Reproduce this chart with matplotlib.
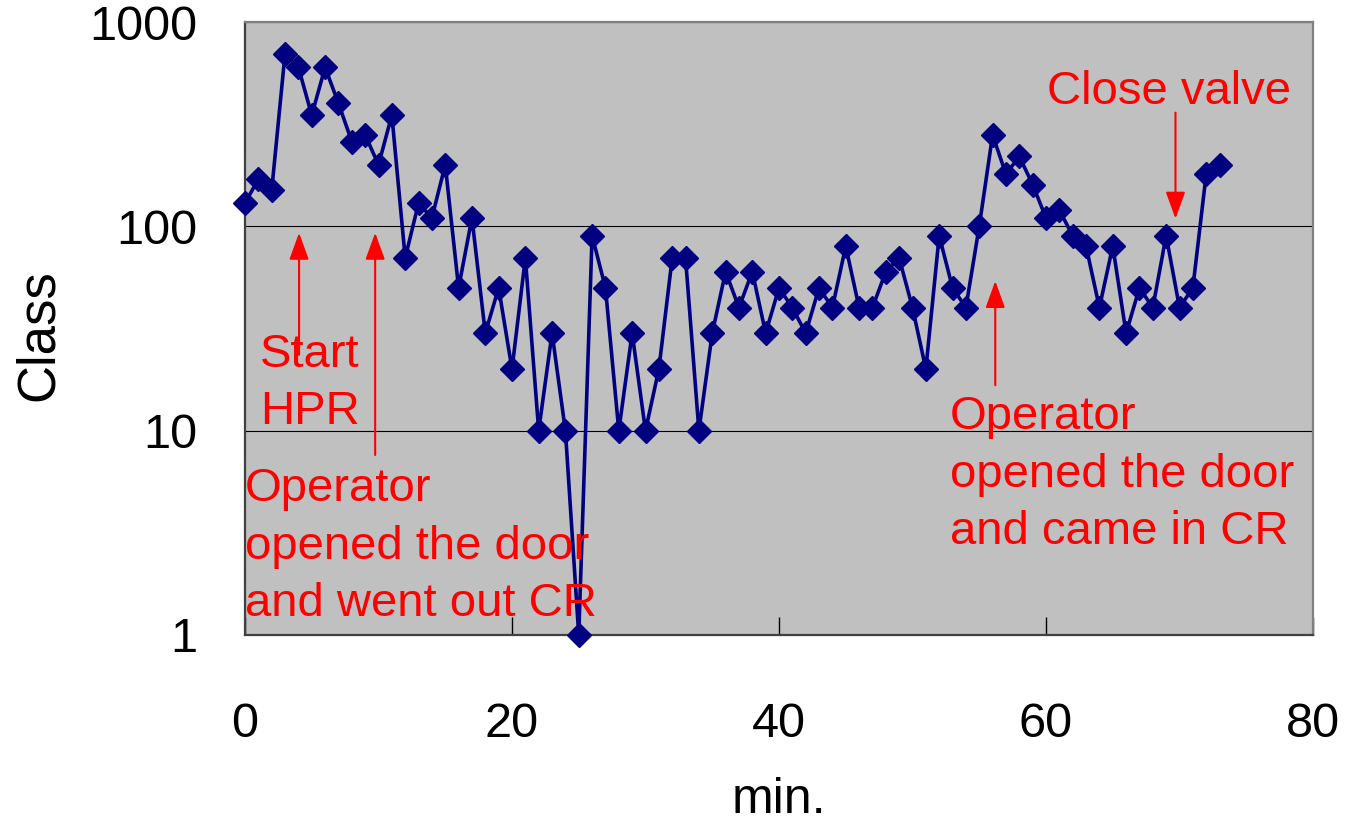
import matplotlib
matplotlib.use("Agg")
import matplotlib.pyplot as plt

# minutes and class values
minutes = list(range(74))
counts = [130, 170, 150, 700, 600, 350, 600, 400, 260, 280,
          200, 350, 70, 130, 110, 200, 50, 110, 30, 50,
          20, 70, 10, 30, 10, 1, 90, 50, 10, 30,
          10, 20, 70, 70, 10, 30, 60, 40, 60, 30,
          50, 40, 30, 50, 40, 80, 40, 40, 60, 70,
          40, 20, 90, 50, 40, 100, 280, 180, 220, 160,
          110, 120, 90, 80, 40, 80, 30, 50, 40, 90,
          40, 50, 180, 200]

x_ticks = [0, 20, 40, 60, 80]
y_ticks = [1, 10, 100, 1000]

# notes: (text, x, y)
notes = [
    ("Start\nHPR", 1.1, 17.0),
    ("Operator\nopened the door\nand went out CR", 0.0, 2.7),
    ("Operator\nopened the door\nand came in CR", 52.8, 6.1),
    ("Close valve", 60.1, 455),
]
# arrows: (x, tail y, head y)
arrows = [
    (4.05, 23.5, 93),
    (9.75, 7.6, 93),
    (56.2, 16.7, 54),
    (69.7, 360, 109),
]

num_font = ["Liberation Sans Narrow", "Liberation Sans", "DejaVu Sans"]
red_font = ["Liberation Sans", "DejaVu Sans"]

fig = plt.figure(figsize=(13.45, 8.26), dpi=100)
ax = fig.add_axes([245/1345, 1-635/826, (1313-245)/1345, (635-22)/826])
ax.set_facecolor("#C0C0C0")

ax.plot(minutes, counts, color="#000080", lw=2.6, marker="D", ms=12.5,
        mec="#000080", mfc="#000080", clip_on=False, zorder=3)

ax.set_yscale("log")
ax.set_ylim(1, 1000)
ax.set_xlim(0, 80)
ax.set_xticks(x_ticks)
ax.set_yticks(y_ticks)
ax.set_yticklabels([str(v) for v in y_ticks])
ax.minorticks_off()
ax.yaxis.grid(True, color="black", lw=0.8)
ax.set_axisbelow(True)

ax.tick_params(axis="x", direction="in", length=13, width=1, pad=48, labelsize=35)
ax.tick_params(axis="y", length=0, pad=34, labelsize=35)
for lab in ax.get_xticklabels() + ax.get_yticklabels():
    lab.set_family(num_font)

ax.set_xlabel("min.", fontsize=36, family=num_font)
ax.set_ylabel("Class", fontsize=38, family=num_font)
ax.xaxis.set_label_coords(0.5, -0.232)
ax.yaxis.set_label_coords(-0.17, 0.49)

for side in ["left", "bottom"]:
    ax.spines[side].set_color("#404040")
    ax.spines[side].set_linewidth(1.6)
for side in ["top", "right"]:
    ax.spines[side].set_color("#808080")
    ax.spines[side].set_linewidth(1.6)

for txt, tx, ty in notes:
    ax.text(tx, ty, txt, color="red", fontsize=34, family=red_font,
            ha="left", va="center", linespacing=1.4, zorder=4)

for axx, y0, y1 in arrows:
    ax.annotate("", xy=(axx, y1), xytext=(axx, y0),
                arrowprops=dict(arrowstyle="-|>,head_length=0.55,head_width=0.2",
                                color="red", lw=1.5, mutation_scale=30,
                                shrinkA=0, shrinkB=0), zorder=4)

fig.savefig("out.png", dpi=100)
